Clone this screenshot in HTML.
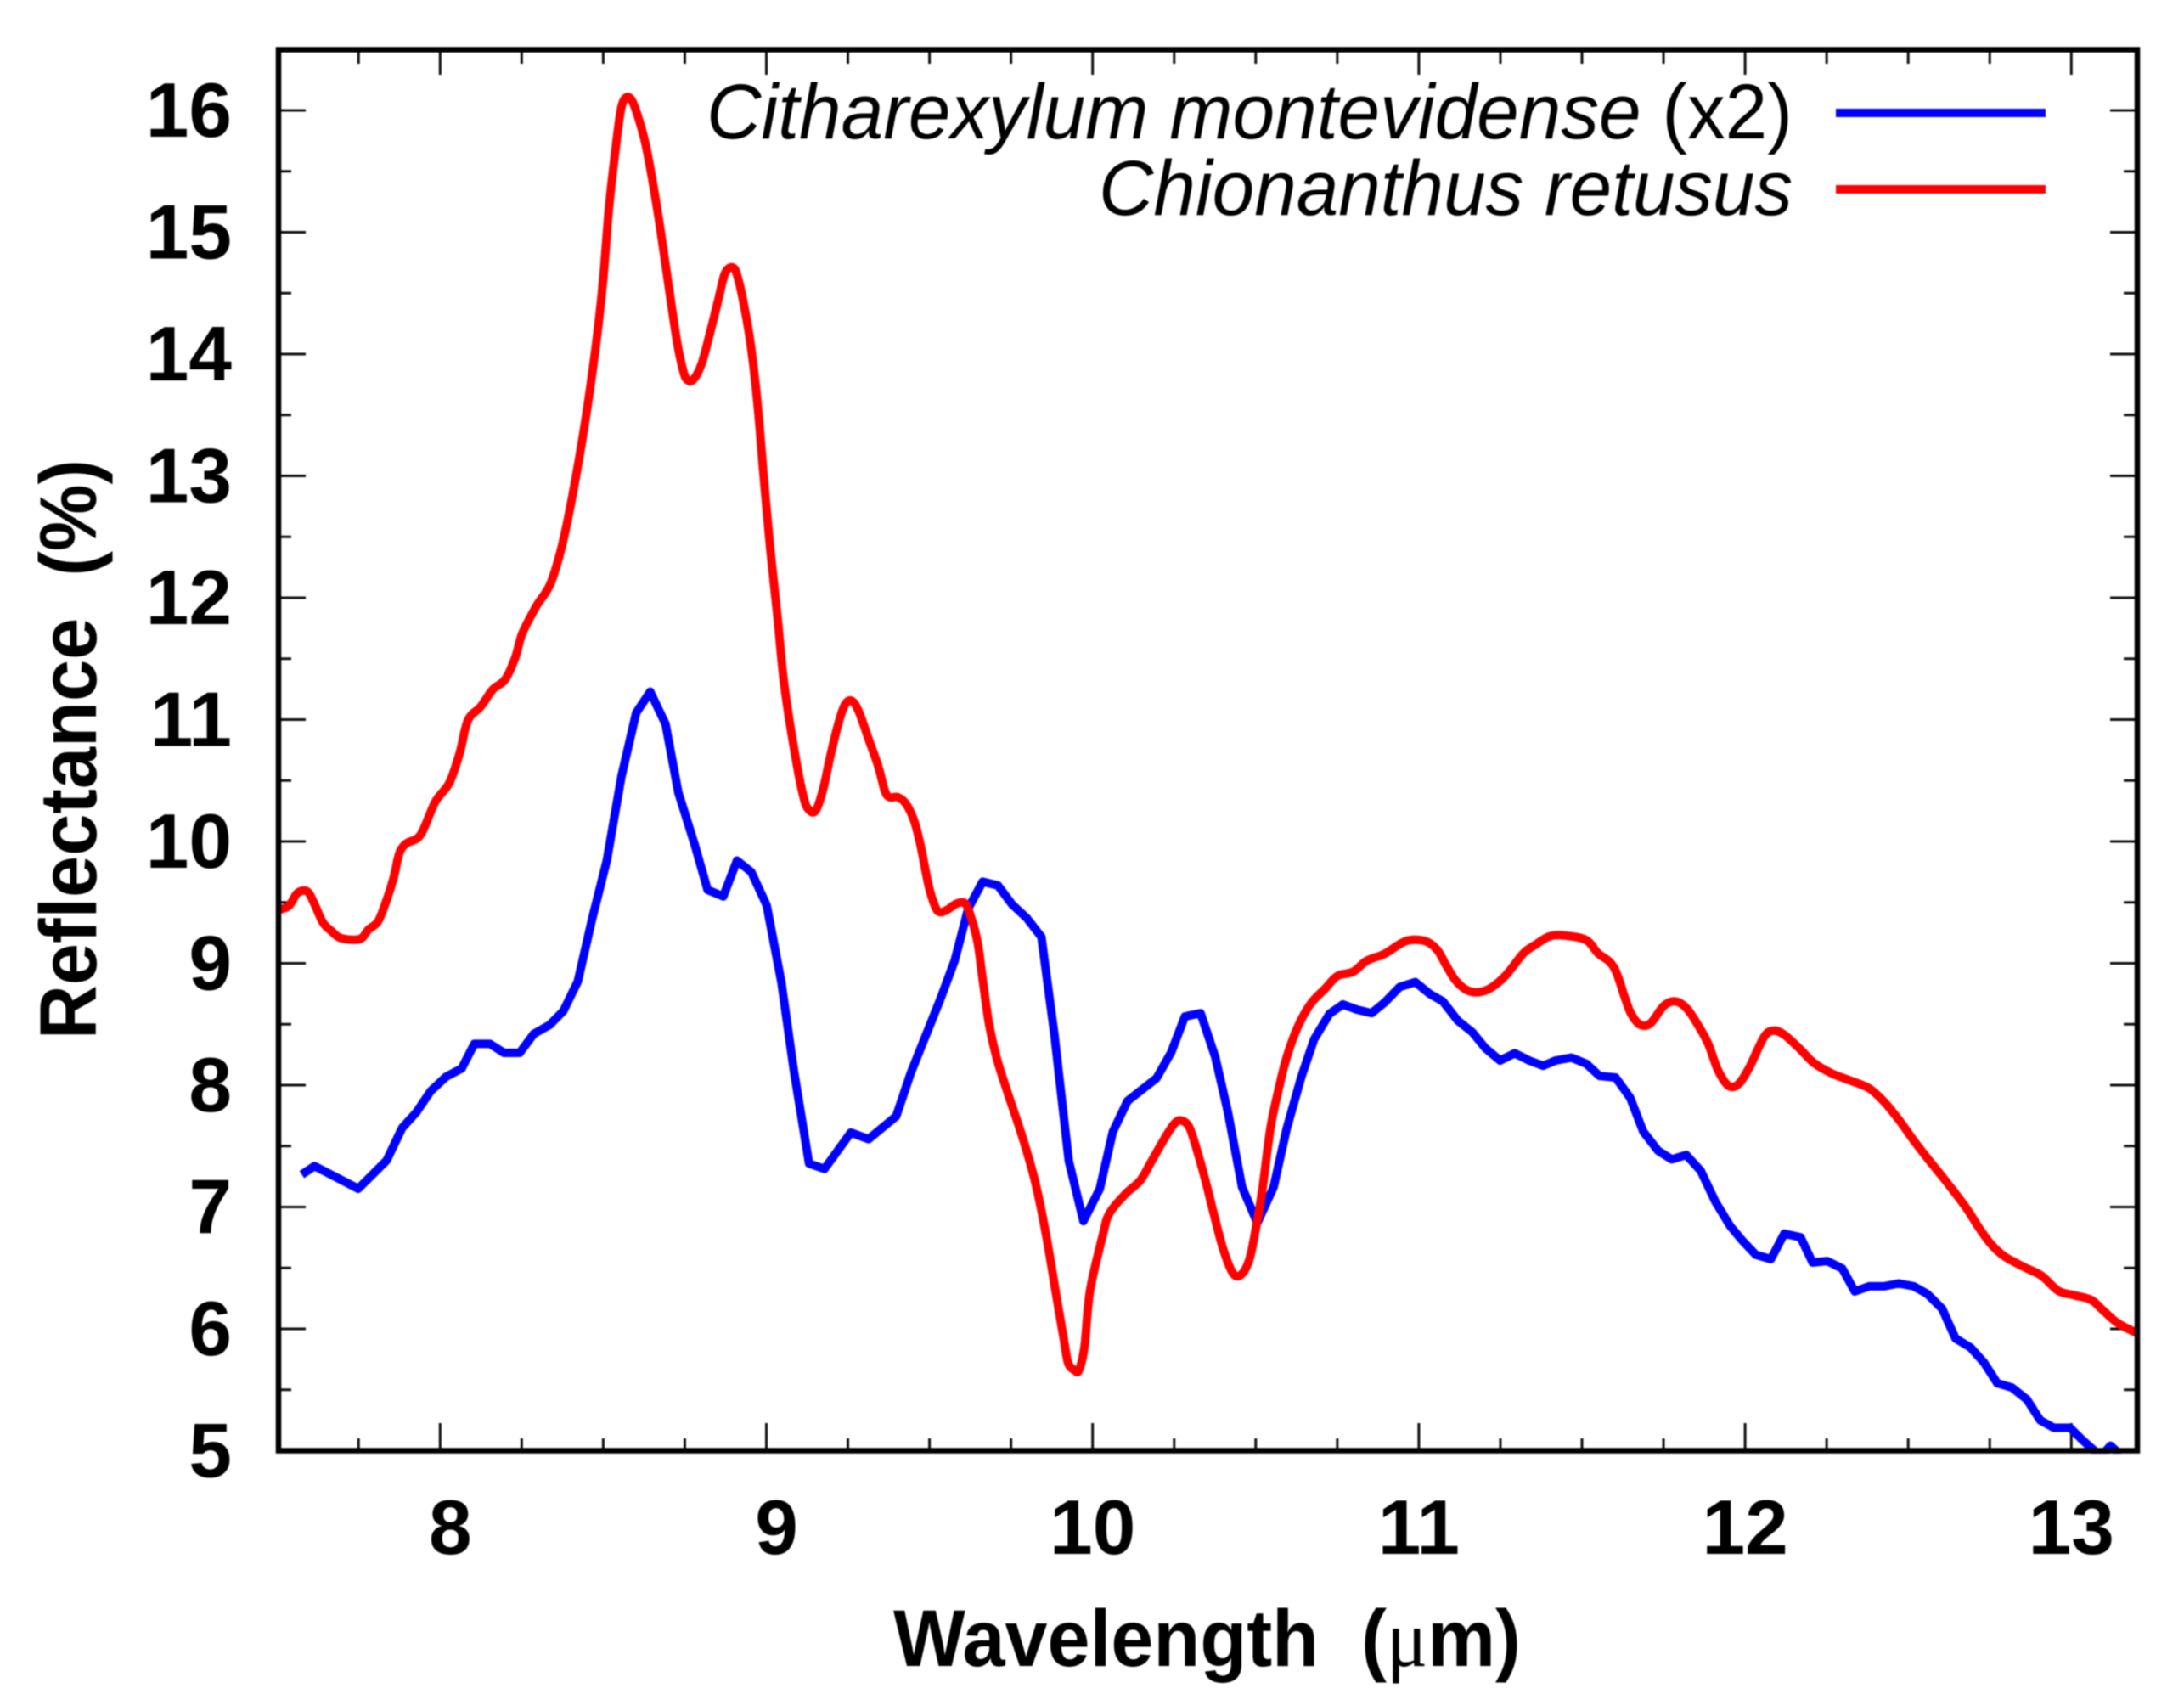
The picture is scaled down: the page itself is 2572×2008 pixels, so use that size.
<!DOCTYPE html>
<html lang="en">
<head>
<meta charset="utf-8">
<title>Reflectance vs Wavelength</title>
<style>
html,body{margin:0;padding:0;background:#fff;}
svg{display:block;filter:blur(0.7px);}
text{font-family:"Liberation Sans",sans-serif;fill:#000;}
</style>
</head>
<body>
<svg id="chart" xmlns="http://www.w3.org/2000/svg" width="2572" height="2008" viewBox="0 0 2572 2008">
  <defs><clipPath id="plot-clip"><rect x="328" y="58" width="2189" height="1654"/></clipPath></defs>
  <rect x="0" y="0" width="2572" height="2008" fill="#fff"/>
  <g id="ticks"></g>
  <g id="series" clip-path="url(#plot-clip)"></g>
  <rect x="328" y="58.5" width="2189" height="1650" fill="none" stroke="#000" stroke-width="6.5"/>
  <g id="tick-labels"></g>
  <text x="1052" y="1962" font-size="95" font-weight="700" textLength="739" lengthAdjust="spacingAndGlyphs">Wavelength&#160;&#160;(<tspan font-weight="400" style="font-family:'Liberation Serif',serif">μ</tspan>m)</text>
  <text transform="translate(113,1224) rotate(-90)" font-size="95" font-weight="700" textLength="683" lengthAdjust="spacingAndGlyphs">Reflectance&#160;&#160;(%)</text>
  <g>
    <text x="832" y="163" font-size="92" textLength="1279" lengthAdjust="spacingAndGlyphs"><tspan font-style="italic">Citharexylum montevidense</tspan> (x2)</text>
    <line x1="2162" y1="133" x2="2409" y2="133" stroke="#0000ff" stroke-width="10"/>
    <text x="1294" y="253" font-size="92" font-style="italic" textLength="817" lengthAdjust="spacingAndGlyphs">Chionanthus retusus</text>
    <line x1="2162" y1="223" x2="2409" y2="223" stroke="#ff0000" stroke-width="10"/>
  </g>
</svg>
<script>
const blueWavelengths = [7.576,7.615,7.749,7.836,7.884,7.927,7.971,8.018,8.066,8.105,8.153,8.196,8.244,8.287,8.335,8.378,8.422,8.466,8.511,8.556,8.601,8.644,8.691,8.730,8.780,8.820,8.868,8.910,8.954,9.001,9.046,9.084,9.131,9.178,9.259,9.313,9.398,9.443,9.533,9.577,9.619,9.663,9.710,9.753,9.798,9.843,9.883,9.927,9.972,10.022,10.062,10.107,10.196,10.241,10.283,10.331,10.376,10.415,10.458,10.505,10.555,10.595,10.640,10.679,10.726,10.767,10.810,10.855,10.896,10.941,10.989,11.034,11.074,11.119,11.164,11.204,11.249,11.294,11.338,11.381,11.419,11.468,11.513,11.554,11.603,11.648,11.688,11.733,11.775,11.820,11.864,11.909,11.954,11.992,12.033,12.079,12.120,12.170,12.207,12.252,12.298,12.336,12.380,12.426,12.471,12.517,12.558,12.604,12.645,12.691,12.732,12.773,12.818,12.864,12.905,12.946,12.996,13.033,13.069,13.090,13.120,13.150];
const blueReflectance = [7.266,7.336,7.150,7.382,7.650,7.777,7.951,8.068,8.137,8.339,8.339,8.265,8.265,8.421,8.493,8.609,8.850,9.363,9.843,10.536,11.056,11.229,10.963,10.403,9.976,9.603,9.549,9.843,9.749,9.475,8.845,8.124,7.357,7.312,7.611,7.557,7.745,8.102,8.704,9.020,9.450,9.670,9.638,9.484,9.372,9.217,8.417,7.377,6.884,7.150,7.617,7.870,8.057,8.270,8.564,8.590,8.230,7.777,7.164,6.870,7.164,7.644,8.070,8.377,8.585,8.663,8.620,8.591,8.680,8.805,8.846,8.748,8.687,8.531,8.435,8.303,8.202,8.262,8.202,8.159,8.202,8.226,8.176,8.075,8.063,7.895,7.619,7.463,7.391,7.427,7.298,7.044,6.845,6.723,6.608,6.572,6.781,6.752,6.544,6.556,6.495,6.307,6.349,6.349,6.373,6.349,6.288,6.165,5.921,5.847,5.725,5.554,5.518,5.420,5.249,5.188,5.188,5.090,5.004,4.950,5.041,4.970];
const redWavelengths = [7.506,7.537,7.563,7.593,7.615,7.641,7.667,7.697,7.754,7.780,7.810,7.836,7.858,7.875,7.897,7.940,7.985,8.028,8.060,8.085,8.124,8.162,8.199,8.230,8.252,8.295,8.337,8.373,8.406,8.443,8.476,8.499,8.518,8.541,8.555,8.570,8.587,8.606,8.629,8.652,8.676,8.703,8.727,8.745,8.757,8.776,8.801,8.824,8.852,8.873,8.897,8.913,8.936,8.954,8.973,8.992,9.012,9.034,9.054,9.084,9.114,9.132,9.152,9.174,9.198,9.223,9.241,9.261,9.283,9.313,9.343,9.363,9.378,9.403,9.428,9.452,9.472,9.497,9.517,9.532,9.557,9.583,9.610,9.629,9.648,9.663,9.683,9.708,9.743,9.783,9.823,9.858,9.888,9.912,9.925,9.945,9.958,9.975,9.992,10.032,10.052,10.102,10.146,10.181,10.221,10.251,10.271,10.296,10.321,10.346,10.371,10.400,10.430,10.455,10.480,10.500,10.520,10.545,10.570,10.595,10.630,10.669,10.712,10.750,10.798,10.840,10.895,10.960,11.017,11.055,11.083,11.114,11.150,11.186,11.222,11.267,11.321,11.356,11.401,11.450,11.513,11.549,11.585,11.607,11.634,11.652,11.679,11.710,11.751,11.787,11.822,11.858,11.887,11.917,11.949,11.979,12.012,12.058,12.087,12.120,12.170,12.211,12.266,12.325,12.380,12.426,12.471,12.517,12.563,12.618,12.677,12.718,12.755,12.796,12.855,12.910,12.960,13.010,13.060,13.092,13.138,13.188,13.220];
const redReflectance = [9.438,9.473,9.578,9.589,9.485,9.334,9.264,9.206,9.199,9.276,9.345,9.519,9.705,9.903,9.984,10.054,10.324,10.480,10.726,10.994,11.105,11.248,11.328,11.507,11.708,11.931,12.109,12.421,12.844,13.417,14.039,14.587,15.209,15.756,16.018,16.105,16.085,15.955,15.731,15.408,15.010,14.512,14.089,13.865,13.790,13.790,13.915,14.139,14.437,14.661,14.711,14.624,14.338,14.039,13.591,12.994,12.400,11.843,11.309,10.776,10.363,10.256,10.256,10.429,10.723,10.989,11.123,11.155,11.069,10.843,10.616,10.416,10.363,10.363,10.309,10.176,9.976,9.643,9.469,9.420,9.443,9.490,9.490,9.364,9.164,8.870,8.497,8.204,7.910,7.590,7.217,6.764,6.284,5.910,5.720,5.660,5.660,5.850,6.310,6.777,6.950,7.110,7.217,7.377,7.564,7.684,7.710,7.657,7.457,7.217,6.950,6.657,6.457,6.444,6.564,6.817,7.137,7.644,7.964,8.230,8.484,8.670,8.790,8.895,8.930,9.020,9.078,9.182,9.184,9.115,8.987,8.855,8.776,8.764,8.800,8.903,9.083,9.150,9.222,9.227,9.191,9.083,9.011,8.915,8.699,8.579,8.495,8.507,8.651,8.687,8.627,8.483,8.339,8.123,7.995,8.007,8.140,8.395,8.447,8.414,8.292,8.182,8.096,8.035,7.974,7.864,7.717,7.546,7.387,7.204,6.996,6.825,6.691,6.593,6.507,6.434,6.312,6.275,6.239,6.165,6.055,5.982,5.950];
const xMajorTicks = [8,9,10,11,12,13];
const xTickLabels = ["8","9","10","11","12","13"];
const xMinorTicks = [7.75,8.25,8.5,8.75,9.25,9.5,9.75,10.25,10.5,10.75,11.25,11.5,11.75,12.25,12.5,12.75];
const yMajorTicks = [5,6,7,8,9,10,11,12,13,14,15,16];
const yTickLabels = ["5","6","7","8","9","10","11","12","13","14","15","16"];
const yMinorTicks = [5.5,6.5,7.5,8.5,9.5,10.5,11.5,12.5,13.5,14.5,15.5];

const xScale = v => 518.3 + (v - 8) * 384.2;
const yScale = v => 1708.5 - (v - 5) * 143.5;
const NS = 'http://www.w3.org/2000/svg';
const PLOT = {left: 328, right: 2517, top: 58.5, bottom: 1708.5};

function make(tag, attrs, parent) {
  const el = document.createElementNS(NS, tag);
  Object.keys(attrs).forEach(k => el.setAttribute(k, attrs[k]));
  parent.appendChild(el);
  return el;
}
function tickLine(parent, x1, y1, x2, y2, width) {
  const el = make('line', {x1, y1, x2, y2, stroke: '#111', 'stroke-width': width}, parent);
  
  
}
const tickGroup = document.getElementById('ticks');
xMajorTicks.forEach(v => {
  const x = xScale(v);
  tickLine(tickGroup, x, PLOT.bottom, x, 1676, 3);
  tickLine(tickGroup, x, PLOT.top, x, 88, 3);
});
xMinorTicks.forEach(v => {
  const x = xScale(v);
  tickLine(tickGroup, x, PLOT.bottom, x, 1694, 3);
  tickLine(tickGroup, x, PLOT.top, x, 75, 3);
});
yMajorTicks.forEach(v => {
  if (v === 5) return;
  const y = yScale(v);
  tickLine(tickGroup, PLOT.left, y, 360, y, 3);
  tickLine(tickGroup, PLOT.right, y, 2485, y, 3);
});
yMinorTicks.forEach(v => {
  const y = yScale(v);
  tickLine(tickGroup, PLOT.left, y, 343, y, 3);
  tickLine(tickGroup, PLOT.right, y, 2501, y, 3);
});

const labelGroup = document.getElementById('tick-labels');
xMajorTicks.forEach((v, i) => {
  const t = make('text', {x: xScale(v) + (v < 10 ? 12 : 0), y: 1830, 'text-anchor': 'middle', 'font-size': 91, 'font-weight': 700}, labelGroup);
  
  
  t.textContent = xTickLabels[i];
});
yMajorTicks.forEach((v, i) => {
  const t = make('text', {x: 273, y: yScale(v) + 31, 'text-anchor': 'end', 'font-size': 91, 'font-weight': 700}, labelGroup);
  
  
  t.textContent = yTickLabels[i];
});

const seriesGroup = document.getElementById('series');
function drawLine(xs, ys, color) {
  const pts = xs.map((x, i) => xScale(x).toFixed(1) + ',' + yScale(ys[i]).toFixed(1)).join(' ');
  return make('polyline', {points: pts, fill: 'none', stroke: color, 'stroke-width': 10, 'stroke-linejoin': 'round', 'stroke-linecap': 'butt'}, seriesGroup);
}
function drawSmooth(xs, ys, color) {
  const p = xs.map((x, i) => [xScale(x), yScale(ys[i])]);
  let d = 'M' + p[0][0].toFixed(1) + ' ' + p[0][1].toFixed(1);
  for (let i = 0; i < p.length - 1; i++) {
    const a = p[Math.max(i - 1, 0)], b = p[i], c = p[i + 1], e = p[Math.min(i + 2, p.length - 1)];
    const c1x = b[0] + (c[0] - a[0]) / 6, c1y = b[1] + (c[1] - a[1]) / 6;
    const c2x = c[0] - (e[0] - b[0]) / 6, c2y = c[1] - (e[1] - b[1]) / 6;
    d += 'C' + c1x.toFixed(1) + ' ' + c1y.toFixed(1) + ' ' + c2x.toFixed(1) + ' ' + c2y.toFixed(1) + ' ' + c[0].toFixed(1) + ' ' + c[1].toFixed(1);
  }
  return make('path', {d: d, fill: 'none', stroke: color, 'stroke-width': 10, 'stroke-linejoin': 'round'}, seriesGroup);
}
const blueLine = drawLine(blueWavelengths, blueReflectance, '#0000ff');


const redLine = drawSmooth(redWavelengths, redReflectance, '#ff0000');


</script>
</body>
</html>
